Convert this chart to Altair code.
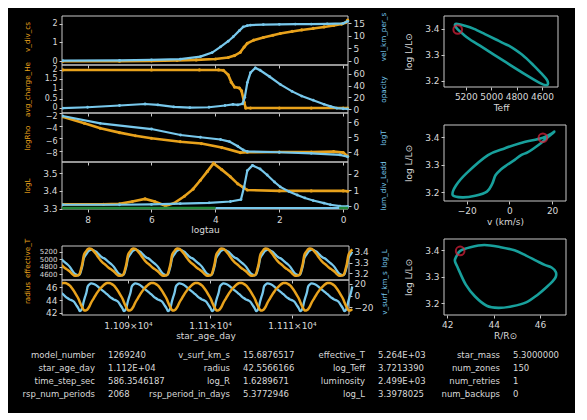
import altair as alt
import pandas as pd

ORANGE = "#E8A21C"
BLUE = "#78C8EC"
TEAL = "#18A09C"
RED = "#E2233E"
GREEN = "#23883A"
FRAME = "#C8C8C8"
TXT = "#D8D8D8"
FONT = "DejaVu Sans"

# ---------------- profile panels (vs logtau) ----------------
P1_TAU_O = [8.78, 7.0, 6.0, 5.2, 4.6, 4.0, 3.6, 3.4, 3.22, 3.1, 3.0, 2.8, 2.5, 2.2, 1.97, 1.6, 1.3, 0.94, 0.6, 0.3, 0.05, -0.08, -0.14]
P1_VDIVCS = [0.0, 0.0, 0.02, 0.04, 0.07, 0.12, 0.2, 0.3, 0.47, 0.75, 0.95, 1.12, 1.26, 1.38, 1.47, 1.58, 1.66, 1.74, 1.82, 1.9, 1.97, 2.05, 2.18]
P1_TAU_B = [8.78, 7.0, 6.0, 5.1, 4.47, 4.1, 3.84, 3.6, 3.44, 3.25, 3.13, 3.0, 2.9, 2.5, 2.0, 1.5, 1.0, 0.5, 0.0, -0.14]
P1_VEL = [0.1, 0.2, 0.4, 0.7, 1.7, 3.3, 5.6, 7.8, 9.6, 12.0, 13.5, 14.0, 14.2, 14.4, 14.5, 14.6, 14.6, 14.7, 14.9, 15.7]

P2_TAU_O = [8.78, 6.0, 4.5, 3.9, 3.75, 3.6, 3.5, 3.4, 3.25, 3.18, 3.1, 3.05, 2.9, 2.0, 1.0, 0.0, -0.14]
P2_CHARGE = [2.0, 2.0, 2.0, 2.0, 1.98, 1.75, 1.35, 1.1, 1.05, 0.9, 0.3, 0.0, 0.0, 0.0, 0.0, 0.0, 0.0]
P2_TAU_B = [8.78, 8.0, 7.0, 6.2, 5.8, 5.3, 4.8, 4.2, 3.7, 3.45, 3.3, 3.15, 3.08, 3.0, 2.9, 2.75, 2.6, 2.3, 1.97, 1.6, 1.3, 0.94, 0.6, 0.4, 0.2, 0.0, -0.14]
P2_OPAC = [1.5, 3, 6, 8.5, 7, 3.5, 2.5, 3, 6, 8, 7, 9, 20, 45, 62, 70, 66, 55, 42, 30, 22, 15, 8, 4.5, 1.5, 0.5, 0.3]

P3_TAU_O = [8.78, 8.1, 7.6, 7.0, 6.5, 6.0, 5.1, 4.44, 3.8, 3.22, 3.0, 2.0, 1.0, 0.3, 0.0, -0.14]
P3_RHO = [-2.55, -3.6, -4.4, -5.1, -5.6, -6.0, -6.55, -6.85, -7.5, -8.3, -8.25, -8.2, -8.2, -8.15, -8.3, -8.9]
P3_TAU_B = [8.78, 7.6, 6.0, 5.09, 4.47, 3.84, 3.56, 3.3, 3.13, 3.0, 2.0, 1.0, 0.1, -0.14]
P3_LOGT = [6.42, 5.93, 5.55, 5.15, 5.0, 4.85, 4.71, 4.4, 4.15, 4.05, 4.0, 3.93, 3.82, 3.7]

P4_TAU_O = [8.78, 7.5, 7.0, 6.6, 6.2, 5.9, 5.56, 5.3, 4.97, 4.7, 4.47, 4.25, 4.06, 3.8, 3.53, 3.3, 3.13, 3.0, 2.0, 1.0, 0.0, -0.14]
P4_LOGL = [3.324, 3.324, 3.327, 3.34, 3.355, 3.34, 3.316, 3.33, 3.37, 3.41, 3.46, 3.51, 3.555, 3.52, 3.48, 3.44, 3.42, 3.405, 3.40, 3.40, 3.40, 3.398]
P4_TAU_B = [8.78, 7.0, 6.0, 5.1, 4.2, 3.53, 3.2, 3.1, 3.0, 2.84, 2.6, 2.38, 2.15, 1.97, 1.7, 1.44, 1.2, 0.94, 0.6, 0.4, 0.1, -0.14]
P4_LEDD = [0.1, 0.1, 0.12, 0.17, 0.22, 0.3, 0.42, 1.2, 2.2, 2.52, 2.3, 1.93, 1.5, 1.2, 0.92, 0.7, 0.52, 0.36, 0.2, 0.1, 0.02, 0.0]

GREEN_FROM = [8.8, 0.12]
GREEN_TO = [4.0, -0.15]
CYAN_FROM = [4.0]
CYAN_TO = [0.12]

# ---------------- one pulsation cycle (phase template) ----------------
PHASE = [0.00, 0.03, 0.06, 0.10, 0.14, 0.20, 0.25, 0.30, 0.35, 0.40, 0.45, 0.50,
         0.55, 0.60, 0.65, 0.70, 0.75, 0.80, 0.85, 0.88, 0.91, 0.94, 0.97]
CYC_R = [42.33, 42.40, 42.56, 43.0, 43.6, 44.3, 44.9, 45.4, 45.85, 46.2, 46.5, 46.68,
         46.68, 46.55, 46.3, 45.9, 45.4, 44.8, 44.2, 43.7, 43.2, 42.8, 42.45]
CYC_V = [-2, 5, 15.7, 19.5, 21, 20, 18, 15, 11.5, 8.5, 5.5, 2.5,
         -1, -4, -6.5, -8, -10.5, -16, -22, -26.5, -25, -20, -10]
CYC_LOGL = [3.36, 3.378, 3.398, 3.412, 3.42, 3.412, 3.40, 3.38, 3.36, 3.345, 3.335, 3.318,
            3.30, 3.283, 3.262, 3.232, 3.203, 3.188, 3.182, 3.19, 3.225, 3.27, 3.335]
CYC_TEFF = [5170, 5218, 5264, 5285, 5273, 5207, 5136, 5050, 4967, 4906, 4862, 4806,
            4756, 4717, 4673, 4613, 4562, 4553, 4568, 4615, 4736, 4882, 5089]

PERIOD = 5.3772946
T_PHASE0 = 11084.76
N_CYCLES = 6
END_PHASE = 0.06
T_DOMAIN = [11081.95, 11116.95]

CUR_TEFF = 5264.0
CUR_LOGL = 3.3978025
CUR_V = 15.6876517
CUR_R = 42.5566166

# ---------------- text table ----------------
TAB_LABELS = [
    ["model_number", "star_age_day", "time_step_sec", "rsp_num_periods"],
    ["v_surf_km_s", "radius", "log_R", "rsp_period_in_days"],
    ["effective_T", "log_Teff", "luminosity", "log_L"],
    ["star_mass", "num_zones", "num_retries", "num_backups"],
]
TAB_VALUES = [
    ["1269240", "1.112E+04", "586.3546187", "2068"],
    ["15.6876517", "42.5566166", "1.6289671", "5.3772946"],
    ["5.264E+03", "3.7213390", "2.499E+03", "3.3978025"],
    ["5.3000000", "150", "1", "0"],
]

# ---------------- layout (pixels inside the 504 x 389 plot area) ----------------
W, H = 504, 389
LX0, LX1 = 0, 286
TX1 = 287
RX0 = 382
PANEL = {
    "p1": (LX0, LX1, 0, 49), "p2": (LX0, LX1, 49, 97), "p3": (LX0, LX1, 97, 146),
    "p4": (LX0, LX1, 146, 193), "ts1": (LX0, TX1, 230, 264), "ts2": (LX0, TX1, 264, 299),
    "hr": (RX0, 496, 0, 71), "vl": (RX0, 504, 109, 185), "rl": (RX0, 504, 223, 299),
}
TITLE_SHIFT = {"ts1": -5, "ts2": -5, "p1": -4}
LEFT_LABEL_SIZE = {"p1": 8, "p2": 8, "p3": 8, "ts1": 7}
LEFT_LABEL_SHIFT = {"p2": -0.5, "p3": 3}
TAU_DOMAIN = [8.8, -0.15]
VT_SIZE = 7.2
NUMFMT = ".6~g"


def lin(dom, rng):
    return alt.Scale(domain=dom, range=rng, nice=False, zero=False)


def xaxis(key, vals, show, title, **kw):
    x0, x1, y0, y1 = PANEL[key]
    if show:
        return alt.Axis(orient="bottom", offset=y1 - H, values=vals, title=title, tickSize=3,
                        labelPadding=3, titlePadding=1, labelFlush=False, labelOverlap=False, **kw)
    return alt.Axis(orient="bottom", offset=y1 - H, values=vals, labels=False, title=None, tickSize=3)


def yaxis(key, vals, title, color, orient):
    x0, x1, y0, y1 = PANEL[key]
    kw = dict(orient=orient, values=vals, title=title, titleColor=color, titleAngle=270,
              titleY=(y0 + y1) / 2 + TITLE_SHIFT.get(key, 0), titleAlign="center",
              titleBaseline="middle", titleFontSize=VT_SIZE, labelOverlap=False, tickSize=3,
              format=NUMFMT)
    if orient == "left":
        kw.update(offset=-x0, titleX=-35, labelFontSize=LEFT_LABEL_SIZE.get(key, 9),
                  labelOffset=LEFT_LABEL_SHIFT.get(key, 0))
    else:
        kw.update(offset=x1 - W, titleX=35)
    return alt.Axis(**kw)


def frame(key):
    x0, x1, y0, y1 = PANEL[key]
    return alt.Chart(pd.DataFrame({"k": [key]})).mark_rect(
        fill="transparent", stroke=FRAME, strokeWidth=1).encode(
        x=alt.value(x0), x2=alt.value(x1), y=alt.value(y0), y2=alt.value(y1))


def profile(key, o_tau, o_val, b_tau, b_val, ldom, rdom, lvals, rvals, ltitle, rtitle, show_x, extras=()):
    x0, x1, y0, y1 = PANEL[key]
    xenc = alt.X("logtau:Q", scale=lin(TAU_DOMAIN, [x0, x1]),
                 axis=xaxis(key, [8, 6, 4, 2, 0], show_x, "logtau", format="d"))
    df_o = pd.DataFrame({"logtau": o_tau, "val": o_val})
    df_b = pd.DataFrame({"logtau": b_tau, "val": b_val})
    o = alt.Chart(df_o).mark_line(
        color=ORANGE, strokeWidth=2.6, clip=True,
        point=alt.OverlayMarkDef(color=ORANGE, size=10, filled=True)
    ).encode(x=xenc, y=alt.Y("val:Q", scale=lin(ldom, [y1, y0]),
                             axis=yaxis(key, lvals, ltitle, ORANGE, "left")))
    b = alt.Chart(df_b).mark_line(
        color=BLUE, strokeWidth=2.2, clip=True,
        point=alt.OverlayMarkDef(color=BLUE, size=8, filled=True)
    ).encode(x=xenc, y=alt.Y("val:Q", scale=lin(rdom, [y1, y0]),
                             axis=yaxis(key, rvals, rtitle, BLUE, "right")))
    layers = [o, b]
    for df_seg, col, sw in extras:
        layers.append(alt.Chart(df_seg).mark_rule(color=col, strokeWidth=sw).encode(
            x=xenc, x2="logtau2:Q", y=alt.value(y1 - 1)))
    return alt.layer(*layers).resolve_scale(y="independent")


seg_green = pd.DataFrame({"logtau": GREEN_FROM, "logtau2": GREEN_TO})
seg_cyan = pd.DataFrame({"logtau": CYAN_FROM, "logtau2": CYAN_TO})

p1 = profile("p1", P1_TAU_O, P1_VDIVCS, P1_TAU_B, P1_VEL, [-0.2, 2.4], [-1.6, 17.8],
             [0, 1, 2], [0, 5, 10, 15], "v_div_cs", "vel_km_per_s", False)
p2 = profile("p2", P2_TAU_O, P2_CHARGE, P2_TAU_B, P2_OPAC, [-0.26, 2.26], [-6.8, 75],
             [0, 0.5, 1, 1.5, 2], [0, 20, 40, 60], "avg_charge_He", "opacity", False)
p3 = profile("p3", P3_TAU_O, P3_RHO, P3_TAU_B, P3_LOGT, [-9.81, -1.95], [3.35, 6.62],
             [-8, -6, -4, -2], [4, 5, 6], "logRho", "logT", False)
p4 = profile("p4", P4_TAU_O, P4_LOGL, P4_TAU_B, P4_LEDD, [3.298, 3.563], [-0.16, 2.73],
             [3.3, 3.4, 3.5], [0, 1, 2], "logL", "lum_div_Ledd", True,
             extras=((seg_cyan, BLUE, 2), (seg_green, GREEN, 2.5)))

# ---------------- time series ----------------
rows = []
t_end = T_PHASE0 + (N_CYCLES + END_PHASE) * PERIOD
for k in range(-1, N_CYCLES + 1):
    for i, ph in enumerate(PHASE):
        t = T_PHASE0 + (k + ph) * PERIOD
        if t < T_DOMAIN[0] - 1.5 or t > t_end + 1e-6:
            continue
        rows.append({"t": t, "Teff": CYC_TEFF[i], "logL": CYC_LOGL[i], "R": CYC_R[i], "v": CYC_V[i]})
ts_df = pd.DataFrame(rows)


def tspanel(key, of, ldom, lvals, ltitle, bf, rdom, rvals, rtitle, show):
    x0, x1, y0, y1 = PANEL[key]
    xenc = alt.X("t:Q", scale=lin(T_DOMAIN, [x0, x1]),
                 axis=xaxis(key, [11090, 11100, 11110], show, "star_age_day",
                            labelExpr="format(datum.value/10000, '.4~f') + '×10⁴'"))
    o = alt.Chart(ts_df).mark_line(color=ORANGE, strokeWidth=2.5, clip=True, interpolate="monotone").encode(
        x=xenc, y=alt.Y(f"{of}:Q", scale=lin(ldom, [y1, y0]), axis=yaxis(key, lvals, ltitle, ORANGE, "left")))
    b = alt.Chart(ts_df).mark_line(color=BLUE, strokeWidth=2.3, clip=True, interpolate="monotone").encode(
        x=xenc, y=alt.Y(f"{bf}:Q", scale=lin(rdom, [y1, y0]), axis=yaxis(key, rvals, rtitle, BLUE, "right")))
    return alt.layer(b, o).resolve_scale(y="independent")


ts1 = tspanel("ts1", "Teff", [4440, 5350], [4600, 4800, 5000, 5200], "effective_T",
              "logL", [3.138, 3.453], [3.2, 3.3, 3.4], "log_L", False)
ts2 = tspanel("ts2", "R", [41.64, 47.15], [42, 44, 46], "radius",
              "v", [-33, 26.8], [-20, 0, 20], "v_surf_km_s", True)

# ---------------- phase loops ----------------
cyc_df = pd.DataFrame({"phase": PHASE, "Teff": CYC_TEFF, "logL": CYC_LOGL, "R": CYC_R, "v": CYC_V})
cur_df = pd.DataFrame({"Teff": [CUR_TEFF], "logL": [CUR_LOGL], "R": [CUR_R], "v": [CUR_V]})


def loop(key, xf, xdom, xvals, xtitle, ydom):
    x0, x1, y0, y1 = PANEL[key]
    xenc = alt.X(f"{xf}:Q", scale=lin(xdom, [x0, x1]),
                 axis=alt.Axis(orient="bottom", offset=y1 - H, values=xvals, title=xtitle, tickSize=3,
                               labelPadding=2, titlePadding=2, labelFlush=False, labelOverlap=False,
                               format=NUMFMT))
    yenc = alt.Y("logL:Q", scale=lin(ydom, [y1, y0]),
                 axis=alt.Axis(orient="left", offset=-x0, values=[3.2, 3.3, 3.4], title="log L/L⊙",
                               titleAngle=270, titleX=-36, titleY=(y0 + y1) / 2, titleAlign="center",
                               titleBaseline="middle", tickSize=3, labelOverlap=False, format=NUMFMT))
    line = alt.Chart(cyc_df).mark_line(color=TEAL, strokeWidth=2.6, interpolate="cardinal-closed").encode(
        x=xenc, y=yenc, order="phase:Q")
    mk = alt.Chart(cur_df).mark_point(shape="circle", filled=False, color=RED, size=75, strokeWidth=2).encode(
        x=xenc, y=yenc)
    return alt.layer(line, mk)


hr = loop("hr", "Teff", [5372, 4474], [5200, 5000, 4800, 4600], "Teff", [3.175, 3.45])
vl = loop("vl", "v", [-30.6, 26.5], [-20, 0, 20], "v (km/s)", [3.169, 3.444])
rl = loop("rl", "R", [41.86, 47.12], [42, 44, 46], "R/R⊙", [3.155, 3.443])

# ---------------- text table ----------------
tab_rows = []
for c in range(4):
    for r in range(4):
        tab_rows.append({"col": c, "row": r, "label": TAB_LABELS[c][r], "value": TAB_VALUES[c][r]})
tab_df = pd.DataFrame(tab_rows)
tx = alt.X("col:Q", scale=lin([0, 3], [38, 443]), axis=None)
ty = alt.Y("row:Q", scale=lin([0, 3], [339, 378.3]), axis=None)
t_lab = alt.Chart(tab_df).mark_text(align="right", dx=-5, color=TXT, font=FONT, fontSize=8.5).encode(
    x=tx, y=ty, text="label:N")
t_val = alt.Chart(tab_df).mark_text(align="left", dx=8, color=TXT, font=FONT, fontSize=8.5).encode(
    x=tx, y=ty, text="value:N")
table = alt.layer(t_lab, t_val)

frames = [frame(k) for k in PANEL]

chart = alt.layer(*frames, p1, p2, p3, p4, ts1, ts2, hr, vl, rl, table).resolve_scale(
    x="independent", y="independent"
).properties(
    width=W, height=H,
    autosize=alt.AutoSizeParams(type="none"),
    padding={"left": 54, "top": 8, "right": 9, "bottom": 8}
).configure(background="black").configure_view(
    stroke="transparent"
).configure_axis(
    domain=False, grid=False, labelColor=TXT, labelFont=FONT, labelFontSize=9,
    titleFont=FONT, titleFontSize=9, titleFontWeight="normal", titleColor=TXT,
    tickColor=FRAME, labelPadding=2
)

chart.save("out.html", embed_options={"renderer": "svg", "actions": False})
